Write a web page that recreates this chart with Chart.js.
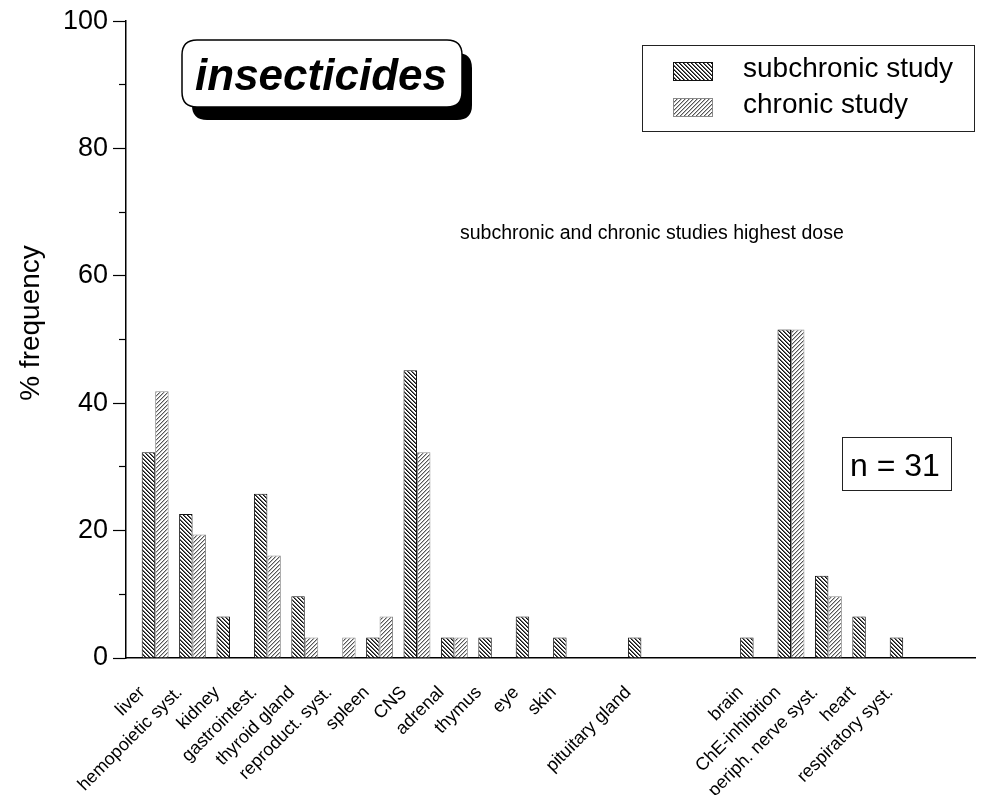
<!DOCTYPE html>
<html>
<head>
<meta charset="utf-8">
<script src="https://cdn.jsdelivr.net/npm/chart.js@4/dist/chart.umd.min.js"></script>
<style>
  html, body { margin: 0; padding: 0; background: #fff; }
  #wrap { width: 982px; height: 795px; position: relative; }
</style>
</head>
<body>
<div id="wrap"><canvas id="c" width="982" height="795"></canvas></div>
<script>
// Organ systems (empty strings are unlabeled gaps on the axis)
const categories = [
  'liver', 'hemopoietic syst.', 'kidney', 'gastrointest.', 'thyroid gland',
  'reproduct. syst.', 'spleen', 'CNS', 'adrenal', 'thymus', 'eye', 'skin',
  '', 'pituitary gland', '', '', 'brain', 'ChE-inhibition',
  'periph. nerve syst.', 'heart', 'respiratory syst.'
];

// % frequency of findings (n = 31)
const subchronicValues = [
  32.3, 22.6, 6.5, 25.8, 9.7, 0, 3.2, 45.2, 3.2, 3.2, 6.5, 3.2,
  0, 3.2, 0, 0, 3.2, 51.6, 12.9, 6.5, 3.2
];
const chronicValues = [
  41.9, 19.4, 0, 16.1, 3.2, 3.2, 6.5, 32.3, 3.2, 0, 0, 0,
  0, 0, 0, 0, 0, 51.6, 9.7, 0, 0
];

const seriesLabels = ['subchronic study', 'chronic study'];
const yTicks = [0, 20, 40, 60, 80, 100];
const yMinorTicks = [10, 30, 50, 70, 90];

const FONT = '"Liberation Sans", Arial, Helvetica, sans-serif';

// Hatch fills
function hatch(kind) {
  const n = 4;
  const c = document.createElement('canvas');
  c.width = n; c.height = n;
  const g = c.getContext('2d');
  g.fillStyle = '#fff';
  g.fillRect(0, 0, n, n);
  for (let i = 0; i < n; i++) {
    if (kind === 'back') {
      g.fillStyle = '#111';
      g.fillRect(i, i, 1, 1);
      g.fillStyle = '#666';
      g.fillRect((i + 1) % n, i, 1, 1);
    } else {
      g.fillStyle = '#555';
      g.fillRect(n - 1 - i, i, 1, 1);
      g.fillStyle = '#bbb';
      g.fillRect((n - i) % n, i, 1, 1);
    }
  }
  return g.createPattern(c, 'repeat');
}

const ctx = document.getElementById('c').getContext('2d');
const subFill = hatch('back');
const chrFill = hatch('fwd');

function roundRect(g, x, y, w, h, r) {
  g.beginPath();
  g.moveTo(x + r, y);
  g.lineTo(x + w - r, y);
  g.quadraticCurveTo(x + w, y, x + w, y + r);
  g.lineTo(x + w, y + h - r);
  g.quadraticCurveTo(x + w, y + h, x + w - r, y + h);
  g.lineTo(x + r, y + h);
  g.quadraticCurveTo(x, y + h, x, y + h - r);
  g.lineTo(x, y + r);
  g.quadraticCurveTo(x, y, x + r, y);
  g.closePath();
}

const decorations = {
  id: 'decorations',
  afterDraw(chart) {
    const g = chart.ctx;
    g.save();

    // y axis title
    g.save();
    g.translate(31, 323);
    g.rotate(-Math.PI / 2);
    g.fillStyle = '#000';
    g.font = '28px ' + FONT;
    g.textAlign = 'center';
    g.textBaseline = 'middle';
    g.fillText('% frequency', 0, 0);
    g.restore();

    // title badge with drop shadow
    g.fillStyle = '#000';
    roundRect(g, 192, 53, 280, 67, 15);
    g.fill();
    g.fillStyle = '#fff';
    g.strokeStyle = '#000';
    g.lineWidth = 1.5;
    roundRect(g, 182, 40, 280, 67, 15);
    g.fill();
    g.stroke();
    g.fillStyle = '#000';
    g.font = 'italic bold 44px ' + FONT;
    g.textAlign = 'center';
    g.textBaseline = 'alphabetic';
    g.fillText('insecticides', 321, 90);

    // legend box
    g.lineWidth = 1;
    g.strokeStyle = '#222';
    g.fillStyle = '#fff';
    g.fillRect(642, 45, 333, 87);
    g.strokeRect(642.5, 45.5, 332, 86);
    const ds = chart.data.datasets;
    const rows = [62, 98];
    ds.forEach((d, i) => {
      g.fillStyle = d.backgroundColor;
      g.fillRect(673, rows[i], 40, 19);
      g.strokeStyle = d.borderColor;
      g.strokeRect(673.5, rows[i] + 0.5, 39, 18);
      g.fillStyle = '#000';
      g.font = '28px ' + FONT;
      g.textAlign = 'left';
      g.textBaseline = 'alphabetic';
      g.fillText(d.label, 743, rows[i] + 15);
    });

    // note
    g.font = '19.5px ' + FONT;
    g.fillStyle = '#000';
    g.fillText('subchronic and chronic studies highest dose', 460, 239);

    // sample size box
    g.strokeStyle = '#222';
    g.lineWidth = 1;
    g.strokeRect(842.5, 437.5, 109, 53);
    g.font = '32px ' + FONT;
    g.fillText('n = 31', 850, 476);

    g.restore();
  }
};

new Chart(ctx, {
  type: 'bar',
  data: {
    datasets: [
      {
        label: seriesLabels[0],
        data: subchronicValues.map((v, i) => ({ x: i, y: v })),
        backgroundColor: subFill,
        borderColor: '#111',
        borderWidth: 1,
        borderSkipped: 'start'
      },
      {
        label: seriesLabels[1],
        data: chronicValues.map((v, i) => ({ x: i, y: v })),
        backgroundColor: chrFill,
        borderColor: '#8a8a8a',
        borderWidth: 1,
        borderSkipped: 'start'
      }
    ]
  },
  options: {
    responsive: false,
    animation: false,
    layout: { padding: { top: 17, right: 7, left: 0, bottom: 0 } },
    categoryPercentage: 0.72,
    barPercentage: 1.0,
    plugins: {
      legend: { display: false },
      tooltip: { enabled: false }
    },
    scales: {
      x: {
        type: 'linear',
        offset: false,
        min: -0.78,
        max: 21.92,
        afterBuildTicks: (axis) => {
          axis.ticks = categories.map((_, i) => ({ value: i }));
        },
        afterFit: (axis) => { axis.height = 137; },
        grid: { display: false, drawTicks: false },
        border: { display: true, color: '#000', width: 1.5 },
        ticks: {
          autoSkip: false,
          maxRotation: 45,
          minRotation: 45,
          padding: 24,
          labelOffset: -13,
          color: '#000',
          font: { family: FONT, size: 18 },
          callback: (value) => categories[value] ?? ''
        }
      },
      y: {
        position: 'left',
        weight: 1,
        min: 0,
        max: 100,
        afterBuildTicks: (axis) => {
          axis.ticks = yTicks.map(v => ({ value: v }));
        },
        afterFit: (axis) => { axis.width = 126; },
        grid: {
          drawOnChartArea: false,
          drawTicks: true,
          tickLength: 13,
          tickColor: '#000',
          tickWidth: 1.2
        },
        border: { display: true, color: '#000', width: 1.5 },
        ticks: {
          padding: 5,
          color: '#000',
          font: { family: FONT, size: 27 }
        }
      },
      yMinor: {
        position: 'left',
        weight: 0,
        min: 0,
        max: 100,
        afterBuildTicks: (axis) => {
          axis.ticks = yMinorTicks.map(v => ({ value: v }));
        },
        afterFit: (axis) => { axis.width = 0; },
        grid: {
          drawOnChartArea: false,
          drawTicks: true,
          tickLength: 7,
          tickColor: '#000',
          tickWidth: 1.2
        },
        border: { display: false },
        ticks: { display: false }
      }
    }
  },
  plugins: [decorations]
});
</script>
</body>
</html>
